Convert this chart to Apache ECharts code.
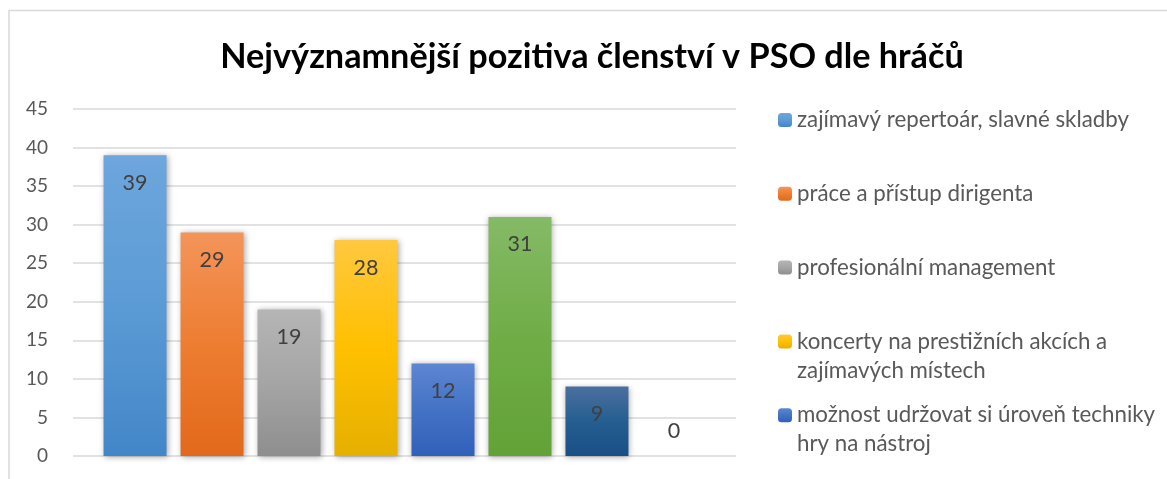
<!DOCTYPE html>
<html>
<head>
<meta charset="utf-8">
<script src="https://cdn.jsdelivr.net/npm/echarts@6/dist/echarts.min.js"></script>
<style>
  html, body { margin: 0; padding: 0; background: #ffffff; }
  #chart { width: 1167px; height: 479px; }
</style>
</head>
<body>
<div id="chart"></div>
<script>
// data
const titleText = 'Nejvýznamnější pozitiva členství v PSO dle hráčů';
const seriesNames = [
  'zajímavý repertoár, slavné skladby',
  'práce a přístup dirigenta',
  'profesionální management',
  'koncerty na prestižních akcích a\nzajímavých místech',
  'možnost udržovat si úroveň techniky\nhry na nástroj',
];
const seriesValues = [39, 29, 19, 28, 12, 31, 9, 0];
const yTicks = { min: 0, max: 45, interval: 5 };

// excel style gradients: top, middle, bottom
const barColors = [
  ['#6EA6DD', '#5B9BD5', '#4386C8'],
  ['#F4945A', '#ED7D31', '#E2691B'],
  ['#B5B5B5', '#A5A5A5', '#8E8E8E'],
  ['#FFC83F', '#FFC000', '#E6B000'],
  ['#5D86D3', '#4472C4', '#3060BA'],
  ['#85BA66', '#70AD47', '#62A236'],
  ['#4C6F9E', '#255E91', '#1A4F85'],
  ['#B0561A', '#9E480E', '#8A3C08'],
];

const FONT = 'Lato, "Noto Sans", sans-serif';
const myChart = echarts.init(document.getElementById('chart'));

function grad(c) {
  return new echarts.graphic.LinearGradient(0, 0, 0, 1, [
    { offset: 0, color: c[0] },
    { offset: 0.5, color: c[1] },
    { offset: 1, color: c[2] },
  ]);
}

const series = seriesValues.map((v, i) => ({
  name: seriesNames[i] || ('s' + i),
  type: 'bar',
  barWidth: 63,
  barGap: '22.2%',
  data: [v === 0
    ? { value: v, label: { position: 'top', distance: 14 } }
    : v],
  itemStyle: {
    color: grad(barColors[i]),
    shadowBlur: 6,
    shadowColor: 'rgba(0,0,0,0.35)',
    shadowOffsetX: 1,
    shadowOffsetY: 1,
  },
  label: {
    show: true,
    position: 'insideTop',
    distance: 17,
    color: '#404040',
    fontSize: 21.5,
    lineHeight: 21,
    fontFamily: FONT,
  },
  emphasis: { disabled: true },
}));

// one legend block per entry; two-line names get an empty leading line
// so the icon lines up with their first line, like in excel
const legends = seriesNames.map((name, i) => {
  const lines = name.split('\n').length;
  const pad = (lines - 1) * 29;
  const y = 120 + 73.8 * i;
  return {
    orient: 'vertical',
    left: 778,
    top: y - 14.5 - pad,
    padding: 0,
    itemWidth: 14,
    itemHeight: 14,
    selectedMode: false,
    data: [name],
    formatter: (n) => (lines > 1 ? ' \n' : '') + n,
    textStyle: {
      fontSize: 22.3,
      lineHeight: 29,
      color: '#595959',
      fontFamily: FONT,
    },
  };
});

const option = {
  animation: false,
  title: {
    text: titleText,
    left: 592,
    top: 40,
    textAlign: 'center',
    padding: 0,
    textStyle: {
      fontSize: 34.2,
      lineHeight: 34,
      fontWeight: 'bold',
      color: '#000000',
      fontFamily: FONT,
    },
  },
  legend: legends,
  grid: {
    left: 73,
    right: 431,
    top: 109,
    bottom: 23,
    containLabel: false,
  },
  xAxis: {
    type: 'category',
    data: [''],
    axisLine: { show: false },
    axisTick: { show: false },
    axisLabel: { show: false },
  },
  yAxis: {
    type: 'value',
    min: yTicks.min,
    max: yTicks.max,
    interval: yTicks.interval,
    axisLine: { show: false },
    axisTick: { show: false },
    axisLabel: {
      margin: 25,
      fontSize: 19,
      color: '#595959',
      fontFamily: FONT,
    },
    splitLine: {
      lineStyle: { color: '#D9D9D9', width: 1.5 },
    },
  },
  graphic: [{
    type: 'rect',
    shape: { x: 9, y: 10.5, width: 1400, height: 800 },
    style: { fill: 'none', stroke: '#D9D9D9', lineWidth: 1.5 },
    silent: true,
  }],
  series: series,
};

myChart.setOption(option);
window.addEventListener('resize', () => myChart.resize());
</script>
</body>
</html>
